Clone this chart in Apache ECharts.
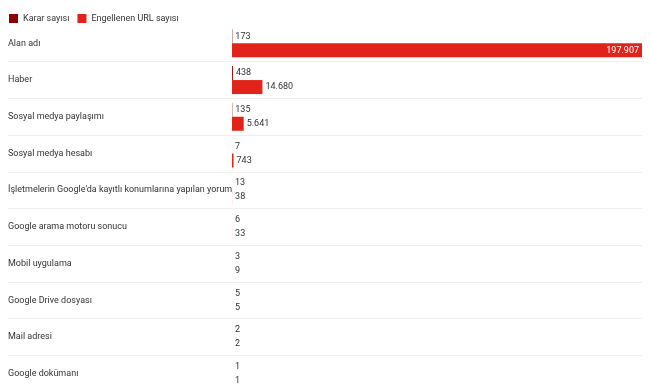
<!DOCTYPE html>
<html><head><meta charset="utf-8">
<script src="https://cdn.jsdelivr.net/npm/echarts@6/dist/echarts.min.js"></script>
<style>html,body{margin:0;padding:0;background:#fff}#c{width:650px;height:392px}</style>
</head><body><div id="c"></div>
<script>
const categories = ["Alan adı","Haber","Sosyal medya paylaşımı","Sosyal medya hesabı","İşletmelerin Google'da kayıtlı konumlarına yapılan yorum","Google arama motoru sonucu","Mobil uygulama","Google Drive dosyası","Mail adresi","Google dokümanı"];
const kararValues = [173,438,135,7,13,6,3,5,2,1];
const urlValues = [197907,14680,5641,743,38,33,9,5,2,1];
const seriesNames = ["Karar sayısı","Engellenen URL sayısı"];

function fmt(v){return String(v).replace(/\B(?=(\d{3})+(?!\d))/g,'.');}
const FONT = 'Roboto';
const maxVal = Math.max(...urlValues, ...kararValues);
const urlData = urlValues.map(v => v > maxVal*0.8 ? {value:v,label:{position:'insideRight',color:'#fff'}} : v);

const chart = echarts.init(document.getElementById('c'));
chart.setOption({
  animation:false,
  textStyle:{fontFamily:FONT},
  legend:{data:seriesNames,left:4,top:9,itemWidth:9,itemHeight:9,itemGap:8,icon:'rect',
    textStyle:{fontSize:9,color:'#333',fontFamily:FONT}},
  grid:[{left:232,right:8,top:25,height:370},{left:8,right:8,top:25,height:370}],
  xAxis:[{type:'value',gridIndex:0,min:0,max:maxVal,show:false},
         {type:'value',gridIndex:1,min:0,max:1,show:false}],
  yAxis:[{type:'category',gridIndex:0,data:categories,inverse:true,show:false},
         {type:'category',gridIndex:1,data:categories,inverse:true,
          axisLine:{show:false},axisTick:{show:false},
          axisLabel:{inside:true,margin:0,fontSize:9,color:'#333',fontFamily:FONT},
          splitLine:{show:true,interval:function(i){return i>0;},lineStyle:{color:'#eeeeee',width:1}}}],
  series:[
    {name:seriesNames[0],type:'bar',xAxisIndex:0,yAxisIndex:0,data:kararValues,barWidth:14,barGap:'0%',
     itemStyle:{color:'#8b0000'},
     label:{show:true,position:'right',distance:3,fontSize:9,color:'#333',formatter:p=>fmt(p.value)}},
    {name:seriesNames[1],type:'bar',xAxisIndex:0,yAxisIndex:0,data:urlData,barWidth:14,barGap:'0%',
     itemStyle:{color:'#e2231a'},
     label:{show:true,position:'right',distance:3,fontSize:9,color:'#333',formatter:p=>fmt(p.value)}},
    {type:'bar',xAxisIndex:1,yAxisIndex:1,data:[],silent:true}
  ]
});
</script></body></html>
